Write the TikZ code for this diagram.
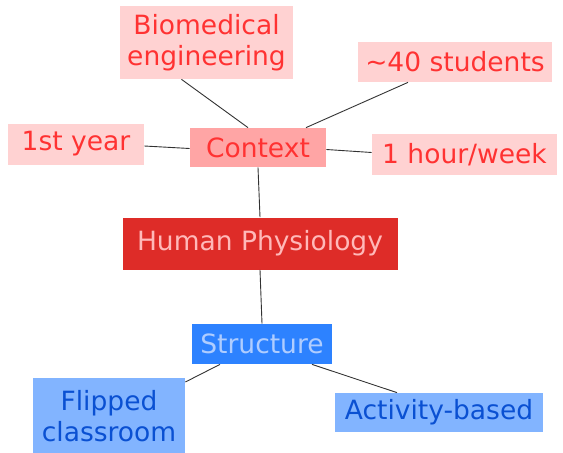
\documentclass[tikz,border=0pt]{standalone}
\usepackage{fontspec}
\setmainfont{DejaVu Sans}
\definecolor{pinkfill}{RGB}{255,210,210}
\definecolor{pinktext}{RGB}{255,50,50}
\definecolor{ctxfill}{RGB}{255,165,165}
\definecolor{hpfill}{RGB}{222,44,40}
\definecolor{hptext}{RGB}{255,185,185}
\definecolor{strfill}{RGB}{45,130,255}
\definecolor{strtext}{RGB}{175,205,255}
\definecolor{bluefill}{RGB}{130,180,255}
\definecolor{bluetext}{RGB}{10,80,210}
\tikzset{every picture/.style={line width=0.75pt}}
\tikzset{
  box/.style={rectangle, inner sep=0pt, align=center, font=\fontsize{26.5}{31}\selectfont},
  ctxbox/.style={box, fill=pinkfill, text=pinktext},
  strbox/.style={box, fill=bluefill, text=bluetext},
  link/.style={draw={rgb,255:red,50;green,50;blue,50}, line width=0.9pt}
}
\begin{document}
\begin{tikzpicture}[x=1pt,y=1pt,yscale=-1,xscale=1]
	%frame of the whole picture
	\useasboundingbox (0,0) rectangle (563,453);

	% Context branch
	\node [ctxbox, minimum width=173pt, minimum height=73pt] (bio) at (206.5,42.5) {Biomedical\\engineering};
	\node [ctxbox, minimum width=194pt, minimum height=40pt] (stud) at (455,62) {\textasciitilde40 students};
	\node [ctxbox, minimum width=136pt, minimum height=41pt] (year) at (76,144) {1st year};
	\node [ctxbox, fill=ctxfill, minimum width=136pt, minimum height=39pt] (ctx) at (258,147.5) {Context};
	\node [ctxbox, minimum width=185pt, minimum height=41pt] (hour) at (464.5,154.5) {1 hour/week};

	% Main course
	\node [box, fill=hpfill, text=hptext, minimum width=275pt, minimum height=52pt] (hp) at (260,243.5) {Human Physiology};

	% Structure branch
	\node [box, fill=strfill, text=strtext, minimum width=140pt, minimum height=40pt] (str) at (262,344) {Structure};
	\node [strbox, minimum width=152pt, minimum height=76pt] (flip) at (109,416) {Flipped\\classroom};
	\node [strbox, minimum width=208pt, minimum height=39pt] (act) at (439,412.5) {Activity-based};

	% Connectors
	\draw [link] ([xshift=-25pt]bio.south) -- ([xshift=-10pt]ctx.north);
	\draw [link] ([xshift=-47pt]stud.south) -- ([xshift=48pt]ctx.north);
	\draw [link] ([yshift=2pt]year.east) -- ([yshift=1pt]ctx.west);
	\draw [link] ([yshift=2pt]ctx.east) -- ([yshift=-2pt]hour.west);
	\draw [link] (ctx.south) -- (hp.north);
	\draw [link] (hp.south) -- (str.north);
	\draw [link] ([xshift=-42pt]str.south) -- ([yshift=-34pt]flip.east);
	\draw [link] ([xshift=50pt]str.south) -- ([xshift=-42pt]act.north);
\end{tikzpicture}
\end{document}
